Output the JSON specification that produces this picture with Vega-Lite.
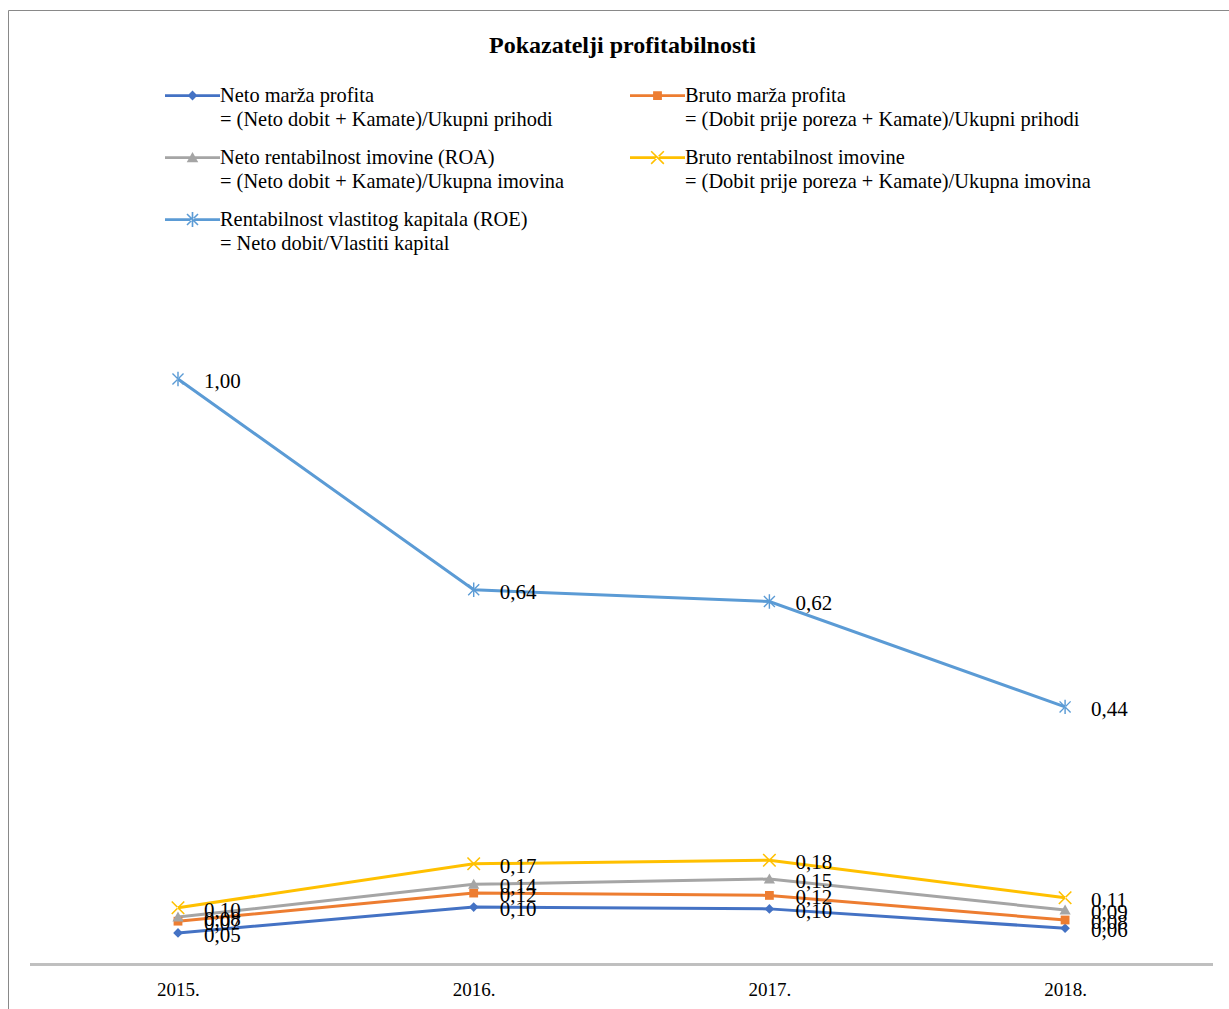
{
  "$schema": "https://vega.github.io/schema/vega-lite/v6.json",
  "width": 1221,
  "height": 999,
  "autosize": {"type": "none"},
  "padding": {"left": 8, "top": 10, "right": 0, "bottom": 0},
  "background": "white",
  "title": {
    "text": "Pokazatelji profitabilnosti",
    "anchor": "middle",
    "offset": -48,
    "dx": 4,
    "font": "Liberation Serif",
    "fontSize": 24,
    "fontWeight": "bold",
    "color": "black"
  },
  "data": {
    "values": [
      {"year": 2015, "series": "Neto marža profita|= (Neto dobit + Kamate)/Ukupni prihodi", "value": 0.054},
      {"year": 2016, "series": "Neto marža profita|= (Neto dobit + Kamate)/Ukupni prihodi", "value": 0.098},
      {"year": 2017, "series": "Neto marža profita|= (Neto dobit + Kamate)/Ukupni prihodi", "value": 0.095},
      {"year": 2018, "series": "Neto marža profita|= (Neto dobit + Kamate)/Ukupni prihodi", "value": 0.062},
      {"year": 2015, "series": "Bruto marža profita|= (Dobit prije poreza + Kamate)/Ukupni prihodi", "value": 0.074},
      {"year": 2016, "series": "Bruto marža profita|= (Dobit prije poreza + Kamate)/Ukupni prihodi", "value": 0.122},
      {"year": 2017, "series": "Bruto marža profita|= (Dobit prije poreza + Kamate)/Ukupni prihodi", "value": 0.118},
      {"year": 2018, "series": "Bruto marža profita|= (Dobit prije poreza + Kamate)/Ukupni prihodi", "value": 0.076},
      {"year": 2015, "series": "Neto rentabilnost imovine (ROA)|= (Neto dobit + Kamate)/Ukupna imovina", "value": 0.081},
      {"year": 2016, "series": "Neto rentabilnost imovine (ROA)|= (Neto dobit + Kamate)/Ukupna imovina", "value": 0.137},
      {"year": 2017, "series": "Neto rentabilnost imovine (ROA)|= (Neto dobit + Kamate)/Ukupna imovina", "value": 0.146},
      {"year": 2018, "series": "Neto rentabilnost imovine (ROA)|= (Neto dobit + Kamate)/Ukupna imovina", "value": 0.093},
      {"year": 2015, "series": "Bruto rentabilnost imovine|= (Dobit prije poreza + Kamate)/Ukupna imovina", "value": 0.097},
      {"year": 2016, "series": "Bruto rentabilnost imovine|= (Dobit prije poreza + Kamate)/Ukupna imovina", "value": 0.172},
      {"year": 2017, "series": "Bruto rentabilnost imovine|= (Dobit prije poreza + Kamate)/Ukupna imovina", "value": 0.178},
      {"year": 2018, "series": "Bruto rentabilnost imovine|= (Dobit prije poreza + Kamate)/Ukupna imovina", "value": 0.114},
      {"year": 2015, "series": "Rentabilnost vlastitog kapitala (ROE)|= Neto dobit/Vlastiti kapital", "value": 1.0},
      {"year": 2016, "series": "Rentabilnost vlastitog kapitala (ROE)|= Neto dobit/Vlastiti kapital", "value": 0.64},
      {"year": 2017, "series": "Rentabilnost vlastitog kapitala (ROE)|= Neto dobit/Vlastiti kapital", "value": 0.62},
      {"year": 2018, "series": "Rentabilnost vlastitog kapitala (ROE)|= Neto dobit/Vlastiti kapital", "value": 0.44}
    ]
  },
  "encoding": {
    "x": {
      "field": "year", "type": "quantitative",
      "scale": {"domain": [2014.4251, 2018.5543], "nice": false, "zero": false},
      "axis": {
        "orient": "bottom", "offset": -45, "domain": false, "ticks": false, "grid": false,
        "values": [2015, 2016, 2017, 2018], "labelExpr": "datum.value + '.'",
        "labelFont": "Liberation Serif", "labelFontSize": 19, "labelColor": "black",
        "labelPadding": 16, "title": null, "labelFlush": false
      }
    },
    "y": {
      "field": "value", "type": "quantitative",
      "scale": {"domain": [-0.076, 1.6302], "nice": false, "zero": false},
      "axis": null
    }
  },
  "layer": [
    {
      "mark": {"type": "rule", "color": "#BFBFBF", "strokeWidth": 1.5},
      "encoding": {
        "x": {"datum": 2014.5, "type": "quantitative"},
        "x2": {"datum": 2018.5},
        "y": {"datum": 0, "type": "quantitative"}
      }
    },
    {
      "mark": {"type": "line", "strokeWidth": 3},
      "encoding": {
        "color": {
          "field": "series", "type": "nominal",
          "scale": {
            "domain": [
              "Neto marža profita|= (Neto dobit + Kamate)/Ukupni prihodi",
              "Bruto marža profita|= (Dobit prije poreza + Kamate)/Ukupni prihodi",
              "Neto rentabilnost imovine (ROA)|= (Neto dobit + Kamate)/Ukupna imovina",
              "Bruto rentabilnost imovine|= (Dobit prije poreza + Kamate)/Ukupna imovina",
              "Rentabilnost vlastitog kapitala (ROE)|= Neto dobit/Vlastiti kapital"
            ],
            "range": ["#4472C4", "#ED7D31", "#A5A5A5", "#FFC000", "#5B9BD5"]
          },
          "legend": {
            "orient": "none", "legendX": 157, "legendY": 58, "columns": 2, "direction": "horizontal", "title": null,
            "labelExpr": "split(datum.label, '|')"
          }
        }
      }
    },
    {
      "transform": [{"filter": "indexof(datum.series, 'Neto marža') === 0"}],
      "mark": {"type": "point", "filled": true, "opacity": 1, "size": 256, "strokeWidth": 0, "shape": "M0,-0.6L0.6,0L0,0.6L-0.6,0Z"},
      "encoding": {"color": {"field": "series", "type": "nominal"}}
    },
    {
      "transform": [{"filter": "indexof(datum.series, 'Bruto marža') === 0"}],
      "mark": {"type": "point", "filled": true, "opacity": 1, "size": 256, "strokeWidth": 0, "shape": "M-0.55,-0.55H0.55V0.55H-0.55Z"},
      "encoding": {"color": {"field": "series", "type": "nominal"}}
    },
    {
      "transform": [{"filter": "indexof(datum.series, 'Neto rentabilnost') === 0"}],
      "mark": {"type": "point", "filled": true, "opacity": 1, "size": 256, "strokeWidth": 0, "shape": "M0,-0.7L0.7,0.55L-0.7,0.55Z"},
      "encoding": {"color": {"field": "series", "type": "nominal"}}
    },
    {
      "transform": [{"filter": "indexof(datum.series, 'Bruto rentabilnost') === 0"}],
      "mark": {"type": "point", "filled": true, "opacity": 1, "size": 256, "strokeWidth": 0, "shape": "M-0.85,-0.71L-0.71,-0.85L0.85,0.71L0.71,0.85Z M0.85,-0.71L0.71,-0.85L-0.85,0.71L-0.71,0.85Z"},
      "encoding": {"color": {"field": "series", "type": "nominal"}}
    },
    {
      "transform": [{"filter": "indexof(datum.series, 'Rentabilnost vlastitog') === 0"}],
      "mark": {"type": "point", "filled": true, "opacity": 1, "size": 256, "strokeWidth": 0, "shape": "M-0.09,-0.9H0.09V0.9H-0.09Z M-0.75,-0.63L-0.63,-0.75L0.75,0.63L0.63,0.75Z M0.75,-0.63L0.63,-0.75L-0.75,0.63L-0.63,0.75Z"},
      "encoding": {"color": {"field": "series", "type": "nominal"}}
    },
    {
      "mark": {"type": "point", "filled": true, "opacity": 0, "size": 3025, "strokeWidth": 0},
      "encoding": {
        "color": {"field": "series", "type": "nominal"},
        "shape": {
          "field": "series", "type": "nominal",
          "scale": {
            "domain": [
              "Neto marža profita|= (Neto dobit + Kamate)/Ukupni prihodi",
              "Bruto marža profita|= (Dobit prije poreza + Kamate)/Ukupni prihodi",
              "Neto rentabilnost imovine (ROA)|= (Neto dobit + Kamate)/Ukupna imovina",
              "Bruto rentabilnost imovine|= (Dobit prije poreza + Kamate)/Ukupna imovina",
              "Rentabilnost vlastitog kapitala (ROE)|= Neto dobit/Vlastiti kapital"
            ],
            "range": [
              "M-1,-0.05H1V0.05H-1Z M0,-0.18L0.18,0L0,0.18L-0.18,0Z",
              "M-1,-0.05H1V0.05H-1Z M-0.16,-0.16H0.16V0.16H-0.16Z",
              "M-1,-0.05H1V0.05H-1Z M0,-0.2L0.21,0.17L-0.21,0.17Z",
              "M-1,-0.05H1V0.05H-1Z M-0.25,-0.21L-0.21,-0.25L0.25,0.21L0.21,0.25Z M0.25,-0.21L0.21,-0.25L-0.25,0.21L-0.21,0.25Z",
              "M-1,-0.05H1V0.05H-1Z M-0.03,-0.27H0.03V0.27H-0.03Z M-0.22,-0.18L-0.18,-0.22L0.22,0.18L0.18,0.22Z M0.22,-0.18L0.18,-0.22L-0.22,0.18L-0.18,0.22Z"
            ]
          },
          "legend": {
            "orient": "none", "legendX": 157, "legendY": 58, "columns": 2, "direction": "horizontal", "title": null,
            "labelExpr": "split(datum.label, '|')"
          }
        }
      }
    },
    {
      "mark": {
        "type": "text", "align": "left", "baseline": "middle", "dx": 26, "dy": 3,
        "font": "Liberation Serif", "fontSize": 21, "color": "black"
      },
      "encoding": {
        "text": {"field": "value", "type": "quantitative", "format": ".2f"}
      }
    }
  ],
  "config": {
    "locale": {
      "number": {"decimal": ",", "thousands": ".", "grouping": [3], "currency": ["", " €"]}
    },
    "view": {"stroke": "#898989", "strokeWidth": 1},
    "style": {"guide-label": {"lineHeight": 24}},
    "legend": {
      "padding": 0,
      "labelFont": "Liberation Serif",
      "labelFontSize": 20.4,
      "labelColor": "black",
      "labelBaseline": "middle",
      "labelLimit": 1000,
      "labelOffset": 0,
      "symbolSize": 3025,
      "symbolStrokeWidth": 0,
      "symbolOpacity": 1,
      "rowPadding": -4,
      "columnPadding": 65
    }
  }
}
